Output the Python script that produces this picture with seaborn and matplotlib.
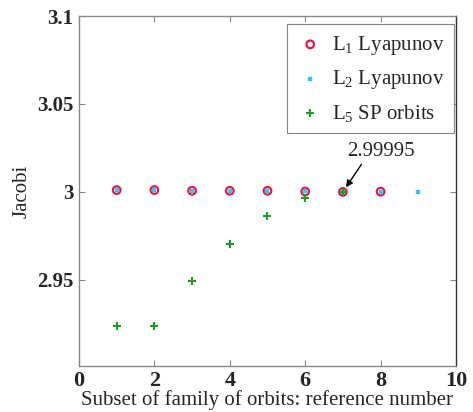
import numpy as np
import pandas as pd
import matplotlib
matplotlib.use("Agg")
import matplotlib.pyplot as plt
import seaborn as sns

# Data
l1_x = [1, 2, 3, 4, 5, 6, 7, 8]
l1_y = [3.0010, 3.0010, 3.0006, 3.0006, 3.0006, 3.0002, 2.99995, 3.0001]
l2_x = [1, 2, 3, 4, 5, 6, 7, 8, 9]
l2_y = [3.0010, 3.0010, 3.0006, 3.0006, 3.0006, 3.0002, 2.99995, 3.0001, 3.0001]
l5_x = [1, 2, 3, 4, 5, 6, 7]
l5_y = [2.9235, 2.9235, 2.9495, 2.9705, 2.9865, 2.9965, 2.99995]
labels = [r"L$_\mathrm{1}$ Lyapunov", r"L$_\mathrm{2}$ Lyapunov", r"L$_\mathrm{5}$ SP orbits"]
xticks = [0, 2, 4, 6, 8, 10]
yticks = [2.95, 3.0, 3.05, 3.1]
ytick_labels = ["2.95", "3", "3.05", "3.1"]

sns.set_style("white")
plt.rcParams["font.family"] = ["Liberation Serif", "DejaVu Serif"]
plt.rcParams["mathtext.fontset"] = "custom"
plt.rcParams["mathtext.rm"] = "Liberation Serif"
plt.rcParams["mathtext.it"] = "Liberation Serif:italic"

fig = plt.figure(figsize=(4.73, 4.12), dpi=100)
ax = fig.add_axes([0.167, 0.112, 0.797, 0.849])

df1 = pd.DataFrame({"x": l1_x, "y": l1_y})
df2 = pd.DataFrame({"x": l2_x, "y": l2_y})
df5 = pd.DataFrame({"x": l5_x, "y": l5_y})

sns.scatterplot(data=df1, x="x", y="y", ax=ax, marker="o", s=30,
                facecolor="none", edgecolor="#e8174a", linewidth=1.6, label=labels[0])
sns.scatterplot(data=df2, x="x", y="y", ax=ax, marker="s", s=8,
                color="#33c6f4", edgecolor="#33c6f4", linewidth=0.3, label=labels[1])
sns.scatterplot(data=df5, x="x", y="y", ax=ax, marker="+", s=30,
                color="#1f9a2a", linewidth=1.5, label=labels[2])

ax.set_xlim(0, 10)
ax.set_ylim(2.901, 3.1)
ax.set_xticks(xticks)
ax.set_yticks(yticks)
ax.set_yticklabels(ytick_labels)
for lab in ax.get_xticklabels():
    lab.set_fontweight("bold")
    lab.set_fontsize(16)
for lab in ax.get_yticklabels():
    lab.set_fontweight("bold")
    lab.set_fontsize(15)
ax.tick_params(direction="in", length=4, color="#888888", width=0.8,
               top=True, right=True, bottom=True, left=True, pad=4)
for sp in ax.spines.values():
    sp.set_color("#888888")
    sp.set_linewidth(1.0)
ax.spines["right"].set_color("#333333")

ax.set_xlabel("Subset of family of orbits: reference number", fontsize=15, labelpad=-1)
ax.set_ylabel("Jacobi", fontsize=15, labelpad=4)

ax.annotate("2.99995", xy=(7, 2.99995), xytext=(8.0, 3.0175),
            fontsize=15, ha="center", va="bottom",
            arrowprops=dict(arrowstyle="-|>", color="black", lw=1.0,
                            shrinkA=0, shrinkB=4, mutation_scale=10,
                            relpos=(0.25, 0.0)))

leg = ax.legend(loc="upper right", bbox_to_anchor=(0.995, 0.976), borderaxespad=0,
                fontsize=15, frameon=True, fancybox=False,
                edgecolor="#666666", handletextpad=0.4, borderpad=0.45,
                labelspacing=0.55, handlelength=1.3, markerscale=1.0)
leg.get_frame().set_linewidth(0.8)

fig.savefig("out.png", dpi=100)
